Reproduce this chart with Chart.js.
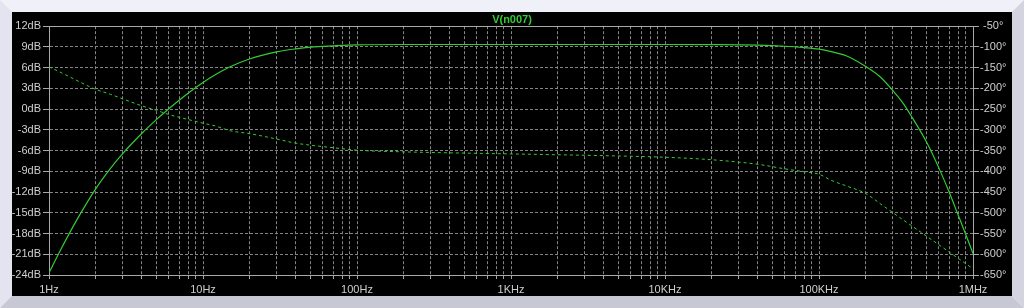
<!DOCTYPE html>
<html>
<head>
<meta charset="utf-8">
<script src="https://cdn.jsdelivr.net/npm/chart.js@4/dist/chart.umd.min.js"></script>
<style>
  html, body { margin: 0; padding: 0; background: #f0f0f8; }
  #wrap { width: 1024px; height: 308px; }
</style>
</head>
<body>
<div id="wrap"><canvas id="bode" width="1024" height="308"></canvas></div>
<script>
// AC sweep of V(n007)
const freqHz = [1, 1.2, 1.5, 2, 2.5, 3, 4, 5, 6, 7, 8, 10, 12, 15, 20, 30, 40, 50, 70, 100, 200, 500,
  1000, 2000, 5000, 10000, 20000, 40000, 60000, 80000, 100000, 120000, 150000, 200000, 250000,
  300000, 350000, 400000, 500000, 600000, 700000, 800000, 900000, 1000000];
const gainDb = [-23.7, -20.2, -16.2, -11.6, -8.6, -6.47, -3.53, -1.49, 0.05, 1.29, 2.31, 3.86, 4.97, 6.13, 7.26, 8.28, 8.72, 8.96, 9.15, 9.3, 9.35, 9.35,
  9.35, 9.35, 9.35, 9.35, 9.33, 9.25, 9.1, 8.9, 8.68, 8.32, 7.72, 6.2, 4.65,
  2.75, 0.9, -1.1, -4.8, -8.5, -12.0, -15.3, -18.2, -20.9];
const phaseDeg = [-148, -162, -180, -202, -214, -225, -242, -253, -263, -269.6, -275, -284, -290.5, -302, -309, -322, -332, -337, -343, -349, -353, -356,
  -358, -360, -363, -366, -372, -383, -394, -401, -407, -421.6, -435, -453, -478,
  -499, -516.5, -531.5, -556.5, -577, -594.5, -609.5, -623, -635];

const decadeHz = [1, 10, 100, 1000, 10000, 100000, 1000000];
const decadeLabels = ['1Hz', '10Hz', '100Hz', '1KHz', '10KHz', '100KHz', '1MHz'];

const gridColor = '#858585';
const axisColor = '#a8a8a8';
const textColor = '#cfcfcf';
const trace = '#33cc33';
const font = { family: 'Liberation Sans', size: 11 };

// LTspice style window: bevelled frame + black plot pane
const framePlugin = {
  id: 'frame',
  beforeDraw(chart) {
    const ctx = chart.ctx;
    const W = chart.width, H = chart.height, b = 12;
    ctx.save();
    ctx.fillStyle = '#f0f0f8';
    ctx.fillRect(0, 0, W, H);
    const poly = (pts, c) => {
      ctx.beginPath();
      ctx.moveTo(pts[0][0], pts[0][1]);
      pts.slice(1).forEach(p => ctx.lineTo(p[0], p[1]));
      ctx.closePath();
      ctx.fillStyle = c;
      ctx.fill();
    };
    poly([[0, 0], [b, b], [b, H - b], [0, H]], '#e4e4f0');
    poly([[0, H], [b, H - b], [W - b, H - b], [W, H]], '#c8c8d4');
    poly([[W, 0], [W - b, b], [W - b, H - b], [W, H]], '#d4d4e0');
    ctx.fillStyle = '#000';
    ctx.fillRect(b, b, W - 2 * b, H - 2 * b);
    ctx.restore();
  },
  beforeDatasetsDraw(chart) {
    const { ctx, chartArea: a } = chart;
    ctx.save();
    ctx.strokeStyle = axisColor;
    ctx.lineWidth = 1;
    ctx.strokeRect(Math.round(a.left) + 0.5, Math.round(a.top) + 0.5,
      Math.round(a.right - a.left), Math.round(a.bottom - a.top));
    ctx.restore();
  }
};

const logTicks = [];
for (let e = 0; e < 6; e++) {
  for (let m = 1; m < 10; m++) logTicks.push({ value: m * Math.pow(10, e) });
}
logTicks.push({ value: 1000000 });

new Chart(document.getElementById('bode'), {
  type: 'line',
  data: {
    datasets: [{
      label: 'V(n007) magnitude',
      data: freqHz.map((f, i) => ({ x: f, y: gainDb[i] })),
      borderColor: trace,
      borderWidth: 1.2,
      pointRadius: 0,
      cubicInterpolationMode: 'monotone',
      yAxisID: 'y'
    }, {
      label: 'V(n007) phase',
      data: freqHz.map((f, i) => ({ x: f, y: phaseDeg[i] })),
      borderColor: trace,
      borderWidth: 1,
      borderDash: [3, 3],
      pointRadius: 0,
      cubicInterpolationMode: 'monotone',
      yAxisID: 'y1'
    }]
  },
  options: {
    responsive: false,
    animation: false,
    layout: { padding: { top: 12, bottom: 12, left: 0, right: 0 } },
    plugins: {
      legend: { display: false },
      tooltip: { enabled: false },
      title: {
        display: true,
        text: 'V(n007)',
        color: trace,
        font: { family: 'Liberation Sans', size: 11 },
        padding: { top: 1, bottom: 0 }
      }
    },
    scales: {
      x: {
        type: 'logarithmic',
        min: 1,
        max: 1000000,
        afterBuildTicks: s => { s.ticks = logTicks.map(t => ({ value: t.value })); },
        afterFit: s => { s.height = 21; },
        ticks: {
          autoSkip: false,
          maxRotation: 0,
          color: textColor,
          font: font,
          padding: 4,
          callback: v => {
            const i = decadeHz.indexOf(v);
            return i >= 0 ? decadeLabels[i] : '';
          }
        },
        grid: { color: gridColor, tickColor: axisColor, tickLength: 4 },
        border: { color: axisColor, dash: [3, 2] }
      },
      y: {
        position: 'left',
        min: -24,
        max: 12,
        afterFit: s => { s.width = 49; },
        ticks: {
          stepSize: 3,
          color: textColor,
          font: font,
          padding: 2,
          callback: v => v + 'dB'
        },
        grid: { color: gridColor, tickColor: axisColor, tickLength: 6 },
        border: { color: axisColor, dash: [3, 2] }
      },
      y1: {
        position: 'right',
        min: -650,
        max: -50,
        afterFit: s => { s.width = 51; },
        ticks: {
          stepSize: 50,
          color: textColor,
          font: font,
          padding: 1,
          crossAlign: 'center',
          callback: v => v + '°'
        },
        grid: { drawOnChartArea: false, color: axisColor, tickLength: 6 },
        border: { color: axisColor }
      }
    }
  },
  plugins: [framePlugin]
});
</script>
</body>
</html>
